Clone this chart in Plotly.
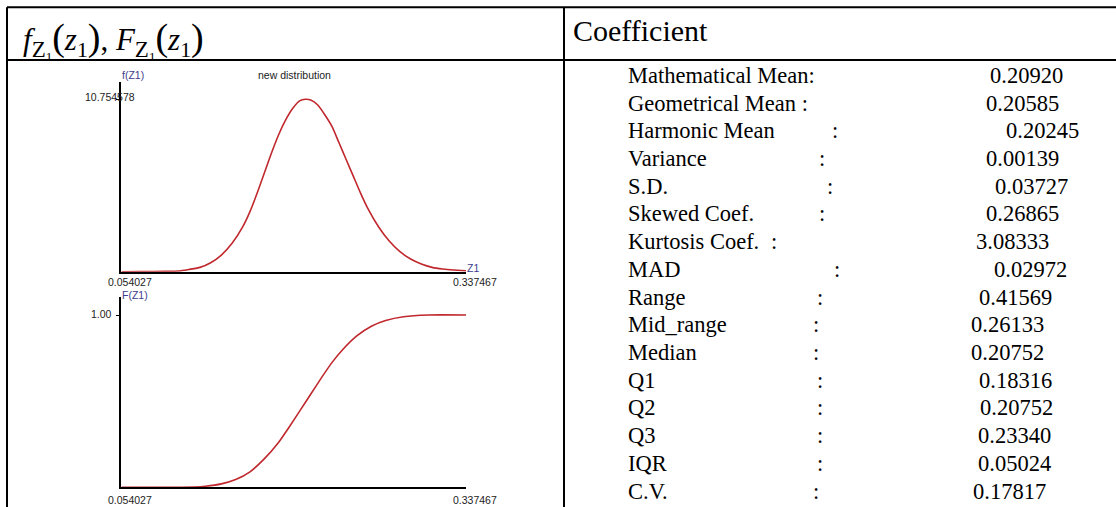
import plotly.graph_objects as go

W, H = 1116, 507

# ---- data ----
z_pdf = [0.054027, 0.07, 0.09, 0.10102, 0.10983, 0.11865, 0.12746, 0.13627, 0.14508, 0.15389,
         0.15977, 0.16564, 0.17152, 0.17739, 0.18326, 0.18914, 0.19501, 0.20089, 0.20530, 0.20970,
         0.21557, 0.22145, 0.22732, 0.23319, 0.23907, 0.24494, 0.25082, 0.25669, 0.26550, 0.27432,
         0.28313, 0.29194, 0.30075, 0.30956, 0.31838, 0.32719, 0.337467]
f_pdf = [0.0, 0.005, 0.02, 0.042, 0.146, 0.270, 0.562, 1.040, 1.768, 2.808,
         3.744, 4.888, 6.137, 7.385, 8.529, 9.465, 10.193, 10.671, 10.755, 10.713,
         10.401, 9.777, 9.049, 8.009, 6.969, 5.929, 4.888, 3.952, 2.808, 1.914,
         1.248, 0.790, 0.478, 0.270, 0.166, 0.104, 0.062]

z_cdf = [0.054027, 0.11500, 0.12305, 0.13627, 0.14802, 0.15977, 0.17152, 0.18326, 0.19208, 0.20089,
         0.20970, 0.21851, 0.22732, 0.23614, 0.24789, 0.25963, 0.27138, 0.28607, 0.30663, 0.337467]
F_cdf = [0.0, 0.002, 0.006, 0.020, 0.045, 0.090, 0.165, 0.260, 0.350, 0.445,
         0.540, 0.635, 0.725, 0.800, 0.880, 0.935, 0.968, 0.990, 1.0, 1.0]

x_tick_labels = ["0.054027", "0.337467"]
x_min, x_max = 0.054027, 0.337467
pdf_tick_label = "10.754578"
pdf_tick_value = 10.754578
cdf_tick_label = "1.00"
cdf_tick_value = 1.0

stat_labels = ["Mathematical Mean:", "Geometrical Mean :", "Harmonic Mean", "Variance", "S.D.",
               "Skewed Coef.", "Kurtosis Coef.", "MAD", "Range", "Mid_range", "Median",
               "Q1", "Q2", "Q3", "IQR", "C.V."]
stat_values = ["0.20920", "0.20585", "0.20245", "0.00139", "0.03727", "0.26865", "3.08333",
               "0.02972", "0.41569", "0.26133", "0.20752", "0.18316", "0.20752", "0.23340",
               "0.05024", "0.17817"]
has_colon = [False, False, True, True, True, True, True, True, True, True, True,
             True, True, True, True, True]

# ---- layout positions (window pixels) ----
colon_x = [None, None, 835, 822, 830, 822, 774, 837, 820, 816, 816, 820, 820, 820, 820, 816]
value_x = [989, 985, 1005, 985, 994, 985, 975, 993, 978, 970, 970, 978, 979, 977, 977, 972]
row_y0, row_dy = 75.5, 27.7


def px(x):
    return x / W


def py(y):
    return 1 - y / H


RED = "#c0282d"
BLUE = "#3c3c8c"
AX_L, AX_R = 121.4, 466.0
P1_TOP, P1_BOT = 81.7, 271.7
P2_TOP, P2_BOT = 297.3, 487.3
pdf_peak_px = 99.3
cdf_one_px = 315.0
ymax1 = pdf_tick_value * (P1_BOT - P1_TOP) / (P1_BOT - pdf_peak_px)
ymax2 = cdf_tick_value * (P2_BOT - P2_TOP) / (P2_BOT - cdf_one_px)

fig = go.Figure()
fig.add_trace(go.Scatter(x=z_pdf, y=f_pdf, mode="lines",
                         line=dict(color=RED, width=1.6, shape="spline", smoothing=0.5),
                         xaxis="x", yaxis="y", hoverinfo="skip"))
fig.add_trace(go.Scatter(x=z_cdf, y=F_cdf, mode="lines",
                         line=dict(color=RED, width=1.6, shape="spline", smoothing=0.5),
                         xaxis="x2", yaxis="y2", hoverinfo="skip"))

ax_common = dict(showgrid=False, zeroline=False, showline=True, linecolor="black", linewidth=2)
fig.update_layout(
    width=W, height=H, margin=dict(l=0, r=0, t=0, b=0),
    paper_bgcolor="white", plot_bgcolor="white", showlegend=False,
    xaxis=dict(domain=[px(AX_L), px(AX_R)], range=[x_min, x_max], anchor="y",
               showticklabels=False, ticks="", **ax_common),
    yaxis=dict(domain=[py(P1_BOT), py(P1_TOP)], range=[0, ymax1], anchor="x",
               tickvals=[pdf_tick_value], ticks="outside", ticklen=3, tickcolor="black",
               showticklabels=False, **ax_common),
    xaxis2=dict(domain=[px(AX_L), px(AX_R)], range=[x_min, x_max], anchor="y2",
                showticklabels=False, ticks="", **ax_common),
    yaxis2=dict(domain=[py(P2_BOT), py(P2_TOP)], range=[0, ymax2], anchor="x2",
                tickvals=[cdf_tick_value], ticks="outside", ticklen=3, tickcolor="black",
                showticklabels=False, **ax_common),
)

ann = []


def add_text(text, x, y, size, color="black", family="Liberation Sans", xanchor="left"):
    ann.append(dict(text=text, x=px(x), y=py(y), xref="paper", yref="paper", showarrow=False,
                    xanchor=xanchor, yanchor="middle",
                    font=dict(size=size, color=color, family=family), borderpad=0))


# chart labels
SMALL = 10.5
add_text("f(Z1)", AX_L, 75, SMALL, BLUE)
add_text("new distribution", 294, 75, SMALL, "#222", xanchor="center")
add_text(pdf_tick_label, 110, 97, SMALL, "#222", xanchor="center")
add_text(x_tick_labels[0], 130, 282, SMALL, "#222", xanchor="center")
add_text(x_tick_labels[1], 475, 282, SMALL, "#222", xanchor="center")
add_text("Z1", 466, 268, SMALL, BLUE)
add_text("F(Z1)", AX_L, 295, SMALL, BLUE)
add_text(cdf_tick_label, 101, 314, SMALL, "#222", xanchor="center")
add_text(x_tick_labels[0], 130, 500, SMALL, "#222", xanchor="center")
add_text(x_tick_labels[1], 475, 500, SMALL, "#222", xanchor="center")

# table header
SERIF = "Liberation Serif"
po = '<span style="font-size:38px">(</span>'
pc = '<span style="font-size:38px">)</span>'
zs = '<sub><span style="font-size:23px">Z</span><sub><span style="font-size:13px">1</span></sub></sub>'
head = ("<i>f</i>" + zs + po + "<i>z</i><sub>1</sub>" + pc + ", "
        "<i>F</i>" + zs + po + "<i>z</i><sub>1</sub>" + pc)
add_text(head, 22, 40, 31, "black", SERIF)
add_text("Coefficient", 572, 31, 30, "black", SERIF)

# table rows
ROWF = 22.5
for i, (lab, val) in enumerate(zip(stat_labels, stat_values)):
    y = row_y0 + i * row_dy
    add_text(lab, 627, y, ROWF, "black", SERIF)
    if has_colon[i]:
        add_text(":", colon_x[i], y, ROWF, "black", SERIF, xanchor="center")
    add_text(val, value_x[i], y, ROWF, "black", SERIF)

fig.update_layout(annotations=ann)

# table borders
shapes = []
lw = 2
for (x0, y0, x1, y1) in [(7, 7.3, W + 2, 7.3), (7, 60, W + 2, 60),
                         (7, 7.3, 7, H + 2), (564, 7.3, 564, H + 2)]:
    shapes.append(dict(type="line", xref="paper", yref="paper", x0=px(x0), y0=py(y0),
                       x1=px(x1), y1=py(y1), line=dict(color="black", width=lw)))
fig.update_layout(shapes=shapes)

fig.write_html("out.html", config={"displayModeBar": False},
               post_script="document.body.style.margin='0';document.body.style.overflow='hidden';")
